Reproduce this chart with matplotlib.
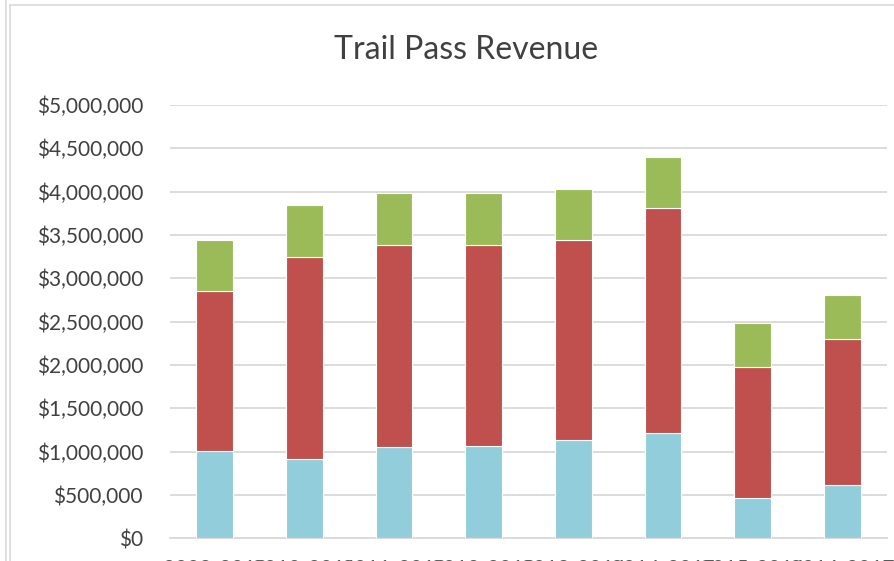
import matplotlib
matplotlib.use("Agg")
import matplotlib.pyplot as plt
from matplotlib.lines import Line2D
from matplotlib.ticker import FuncFormatter

# -- data -------------------------------------------------------------------
seasons = ["2009-2010", "2010-2011", "2011-2012", "2012-2013",
           "2013-2014", "2014-2015", "2015-2016", "2016-2017"]
blue_rev  = [1010000,  910000, 1050000, 1060000, 1140000, 1220000,  470000,  610000]
red_rev   = [1840000, 2340000, 2330000, 2330000, 2300000, 2590000, 1510000, 1690000]
green_rev = [ 590000,  600000,  600000,  600000,  590000,  590000,  500000,  510000]
yticks = [0, 500000, 1000000, 1500000, 2000000, 2500000, 3000000, 3500000, 4000000, 4500000, 5000000]
# ----------------------------------------------------------------------------

plt.rcParams['font.family'] = ['Lato', 'DejaVu Sans']

W, H = 894, 561
fig = plt.figure(figsize=(W / 100, H / 100), dpi=100)
ax = fig.add_axes([170 / W, 1 - 538.3 / H, 717 / W, 433.3 / H])

x = list(range(len(seasons)))
bottom2 = [b + r for b, r in zip(blue_rev, red_rev)]
kw = dict(width=0.41, edgecolor="white", linewidth=0.8, zorder=3)
ax.bar(x, blue_rev, color="#92CDDC", **kw)
ax.bar(x, red_rev, bottom=blue_rev, color="#C0504D", **kw)
ax.bar(x, green_rev, bottom=bottom2, color="#9BBB59", **kw)

ax.set_xlim(-0.5, len(seasons) - 0.5)
ax.set_ylim(0, 5000000)
ax.set_yticks(yticks)
ax.yaxis.set_major_formatter(FuncFormatter(lambda v, p: f"${v:,.0f}"))
ax.grid(axis="y", color="#D9D9D9", linewidth=1.3, zorder=0)
for s in ["top", "right", "left"]:
    ax.spines[s].set_visible(False)
ax.spines["bottom"].set_color("#D9D9D9")
ax.spines["bottom"].set_linewidth(1.3)
ax.tick_params(axis="y", length=0, labelsize=15, labelcolor="#404040", pad=19.5)
ax.set_xticks(x)
ax.set_xticklabels(seasons)
ax.tick_params(axis="x", length=0, labelsize=15, labelcolor="#595959", pad=15)

fig.text(466 / W, 1 - 50 / H, "Trail Pass Revenue", ha="center", va="center",
         fontsize=23, color="#404040")

# chart frame remnants
fig.add_artist(Line2D([6 / W, 6 / W], [0, 1], color="#D9D9D9", lw=1.2))
fig.add_artist(Line2D([9.5 / W, 9.5 / W], [0, 1 - 5 / H], color="#D9D9D9", lw=1.2))
fig.add_artist(Line2D([9.5 / W, 1], [1 - 5 / H, 1 - 5 / H], color="#D9D9D9", lw=1.2))

fig.savefig("out.png", dpi=100)
